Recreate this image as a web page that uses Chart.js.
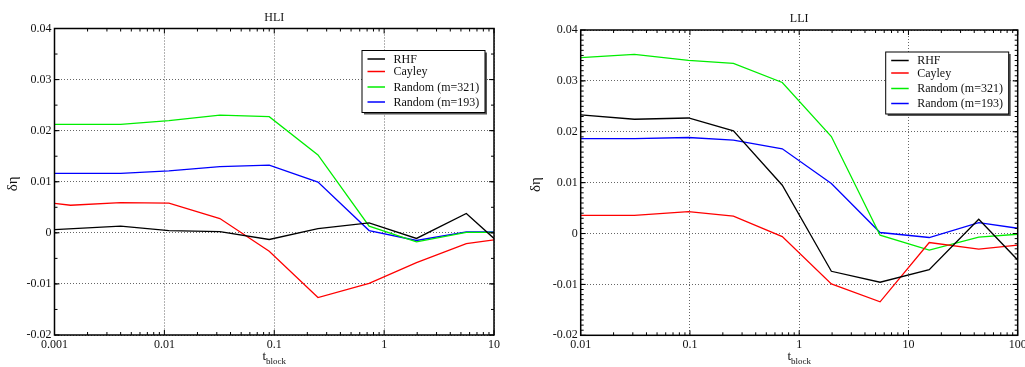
<!DOCTYPE html>
<html>
<head>
<meta charset="utf-8">
<script src="https://cdn.jsdelivr.net/npm/chart.js@4"></script>
<style>
  html, body { margin: 0; padding: 0; background: #fff; }
  body { width: 1025px; height: 367px; position: relative; overflow: hidden; }
  .panel { position: absolute; top: 0; height: 367px; }
</style>
</head>
<body>
<div class="panel" style="left:0;width:512px"><canvas id="chartHLI" width="512" height="367"></canvas></div>
<div class="panel" style="left:520px;width:505px"><canvas id="chartLLI" width="505" height="367"></canvas></div>
<script>
// ---- datos ----
const seriesNames = ['RHF', 'Cayley', 'Random (m=321)', 'Random (m=193)'];
const seriesColors = ['#000000', '#ff0000', '#00ee00', '#0000ff'];

const yTicks = [-0.02, -0.01, 0, 0.01, 0.02, 0.03, 0.04];
const yTickLabels = ['-0.02', '-0.01', '0', '0.01', '0.02', '0.03', '0.04'];

// HLI
const hliXTicks = [0.001, 0.01, 0.1, 1, 10];
const hliXTickLabels = ['0.001', '0.01', '0.1', '1', '10'];
const hliT = [0.001, 0.004, 0.011, 0.032, 0.09, 0.25, 0.73, 1.97, 5.6, 10];
const hliCayleyT = [0.001, 0.0014, 0.004, 0.011, 0.032, 0.09, 0.25, 0.73, 1.97, 5.6, 10];
const hliRHF = [0.00064, 0.0013, 0.00045, 0.00025, -0.0013, 0.00084, 0.00195, -0.0011, 0.0038, -0.0011];
const hliCayley = [0.00577, 0.0054, 0.0059, 0.0058, 0.0028, -0.0036, -0.01267, -0.0099, -0.00585, -0.0021, -0.00137];
const hliRand321 = [0.02125, 0.02125, 0.02195, 0.02306, 0.02273, 0.01526, 0.0013, -0.00175, 0.0001, 0.0001];
const hliRand193 = [0.01162, 0.01162, 0.01214, 0.01298, 0.01325, 0.00994, 0.00045, -0.0015, 0.0002, 0.0002];

// LLI
const lliXTicks = [0.01, 0.1, 1, 10, 100];
const lliXTickLabels = ['0.01', '0.1', '1', '10', '100'];
const lliT = [0.01, 0.031, 0.097, 0.25, 0.7, 1.97, 5.5, 15.5, 44, 100];
const lliRHF = [0.0233, 0.02246, 0.02271, 0.02018, 0.0095, -0.00742, -0.00957, -0.00711, 0.0028, -0.0052];
const lliCayley = [0.00357, 0.00357, 0.0043, 0.00344, -0.00059, -0.0099, -0.01342, -0.00176, -0.00307, -0.00229];
const lliRand321 = [0.03457, 0.03521, 0.03404, 0.03346, 0.02969, 0.01906, -0.00033, -0.00326, -0.00072, -0.00014];
const lliRand193 = [0.01867, 0.01867, 0.01887, 0.01836, 0.01666, 0.00982, 0.0002, -0.00078, 0.00215, 0.00104];

const SERIF = '"Liberation Serif", "DejaVu Serif", serif';

function pts(xs, ys) {
  return xs.map((x, i) => ({ x, y: ys[i] }));
}

// ejes, ticks hacia dentro, etiquetas y leyenda dibujados a mano
const decor = {
  id: 'decor',
  afterDraw(chart, args, o) {
    const { ctx, chartArea: a, scales: { x, y } } = chart;
    ctx.save();

    // marco
    ctx.strokeStyle = '#000';
    ctx.lineWidth = 1.5;
    ctx.strokeRect(a.left, a.top, a.right - a.left, a.bottom - a.top);

    // ticks
    ctx.lineWidth = 1;
    ctx.beginPath();
    const xMax = o.xTicks[o.xTicks.length - 1];
    o.xTicks.forEach(v => {
      const px = x.getPixelForValue(v);
      ctx.moveTo(px, a.bottom); ctx.lineTo(px, a.bottom - 5);
      ctx.moveTo(px, a.top); ctx.lineTo(px, a.top + 5);
    });
    o.xTicks.slice(0, -1).forEach(d => {
      for (let k = 2; k <= 9; k++) {
        const v = d * k;
        if (v >= xMax) break;
        const px = x.getPixelForValue(v);
        ctx.moveTo(px, a.bottom); ctx.lineTo(px, a.bottom - 3);
        ctx.moveTo(px, a.top); ctx.lineTo(px, a.top + 3);
      }
    });
    yTicks.forEach(v => {
      const py = y.getPixelForValue(v);
      ctx.moveTo(a.left, py); ctx.lineTo(a.left + 5, py);
      ctx.moveTo(a.right, py); ctx.lineTo(a.right - 5, py);
    });
    const nMinor = Math.round((yTicks[yTicks.length - 1] - yTicks[0]) / o.yMinor);
    for (let i = 1; i < nMinor; i++) {
      const v = yTicks[0] + i * o.yMinor;
      const py = y.getPixelForValue(v);
      ctx.moveTo(a.left, py); ctx.lineTo(a.left + 3, py);
      ctx.moveTo(a.right, py); ctx.lineTo(a.right - 3, py);
    }
    ctx.stroke();

    // etiquetas de ticks
    ctx.fillStyle = '#111';
    ctx.font = '12px ' + SERIF;
    ctx.textAlign = 'center';
    ctx.textBaseline = 'alphabetic';
    o.xTicks.forEach((v, i) => {
      ctx.fillText(o.xLabels[i], x.getPixelForValue(v), a.bottom + 13);
    });
    ctx.textAlign = 'right';
    ctx.textBaseline = 'middle';
    yTicks.forEach((v, i) => {
      ctx.fillText(yTickLabels[i], a.left - 3, y.getPixelForValue(v));
    });

    // título
    const cx = (a.left + a.right) / 2;
    ctx.textAlign = 'center';
    ctx.textBaseline = 'alphabetic';
    ctx.font = '12px ' + SERIF;
    ctx.fillText(o.title, cx, a.top - 8);

    // título eje x: t_block
    ctx.font = '13px ' + SERIF;
    const tW = ctx.measureText('t').width;
    ctx.font = '9px ' + SERIF;
    const bW = ctx.measureText('block').width;
    const x0 = cx - (tW + bW) / 2;
    ctx.textAlign = 'left';
    ctx.font = '13px ' + SERIF;
    ctx.fillText('t', x0, a.bottom + 25);
    ctx.font = '9px ' + SERIF;
    ctx.fillText('block', x0 + tW, a.bottom + 29);

    // título eje y
    ctx.save();
    ctx.translate(a.left - o.yTitleOff, (a.top + a.bottom) / 2 + 2);
    ctx.rotate(-Math.PI / 2);
    ctx.textAlign = 'center';
    ctx.font = '15px ' + SERIF;
    ctx.fillText('δη', 0, 0);
    ctx.restore();

    // leyenda
    const bw = 123, bh = 62;
    const bx = a.right - 9 - bw, by = a.top + 22;
    ctx.fillStyle = '#555';
    ctx.fillRect(bx + 2, by + 2, bw, bh);
    ctx.fillStyle = '#fff';
    ctx.fillRect(bx, by, bw, bh);
    ctx.strokeStyle = '#000';
    ctx.lineWidth = 1;
    ctx.strokeRect(bx, by, bw, bh);
    ctx.font = '12px ' + SERIF;
    ctx.textAlign = 'left';
    ctx.textBaseline = 'alphabetic';
    const rows = [12, 24.5, 40, 55];
    chart.data.datasets.forEach((ds, i) => {
      const ry = by + rows[i];
      ctx.strokeStyle = ds.borderColor;
      ctx.lineWidth = 1.5;
      ctx.beginPath();
      ctx.moveTo(bx + 5.5, ry - 3.5);
      ctx.lineTo(bx + 23, ry - 3.5);
      ctx.stroke();
      ctx.fillStyle = '#111';
      ctx.fillText(ds.label, bx + 31.5, ry);
    });

    ctx.restore();
  }
};

function buildPanel(id, datasets, opts) {
  const ctx = document.getElementById(id);
  return new Chart(ctx, {
    type: 'line',
    data: {
      datasets: datasets.map((d, i) => ({
        label: seriesNames[i],
        data: d,
        borderColor: seriesColors[i],
        borderWidth: 1.3,
        pointRadius: 0,
        tension: 0,
        fill: false
      }))
    },
    options: {
      responsive: false,
      animation: false,
      events: [],
      layout: { padding: opts.padding },
      plugins: {
        legend: { display: false },
        title: { display: false },
        tooltip: { enabled: false },
        decor: {
          title: opts.title,
          xTicks: opts.xTicks,
          xLabels: opts.xLabels,
          yMinor: opts.yMinor,
          yTitleOff: opts.yTitleOff
        }
      },
      scales: {
        x: {
          type: 'logarithmic',
          min: opts.xTicks[0],
          max: opts.xTicks[opts.xTicks.length - 1],
          afterBuildTicks: s => { s.ticks = opts.xTicks.map(v => ({ value: v })); },
          afterFit: s => { s.height = opts.xHeight; },
          ticks: { display: false },
          grid: { color: '#666', lineWidth: 1, drawTicks: false },
          border: { display: false, dash: [1, 2] }
        },
        y: {
          type: 'linear',
          min: yTicks[0],
          max: yTicks[yTicks.length - 1],
          afterBuildTicks: s => { s.ticks = yTicks.map(v => ({ value: v })); },
          afterFit: s => { s.width = opts.yWidth; },
          ticks: { display: false },
          grid: { color: '#666', lineWidth: 1, drawTicks: false },
          border: { display: false, dash: [1, 2] }
        }
      }
    },
    plugins: [decor]
  });
}

buildPanel('chartHLI', [
  pts(hliT, hliRHF),
  pts(hliCayleyT, hliCayley),
  pts(hliT, hliRand321),
  pts(hliT, hliRand193)
], {
  title: 'HLI', xTicks: hliXTicks, xLabels: hliXTickLabels, yMinor: 0.005,
  padding: { left: 0, right: 18, top: 28.5, bottom: 0 },
  yWidth: 54.5, xHeight: 32, yTitleOff: 38
});

buildPanel('chartLLI', [
  pts(lliT, lliRHF),
  pts(lliT, lliCayley),
  pts(lliT, lliRand321),
  pts(lliT, lliRand193)
], {
  title: 'LLI', xTicks: lliXTicks, xLabels: lliXTickLabels, yMinor: 0.001,
  padding: { left: 0, right: 7.3, top: 30, bottom: 0 },
  yWidth: 60.7, xHeight: 31.7, yTitleOff: 41
});
</script>
</body>
</html>
